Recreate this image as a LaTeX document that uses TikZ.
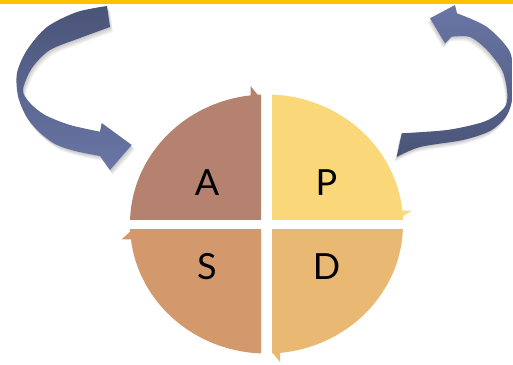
\documentclass[tikz,border=0pt]{standalone}
\usepackage{fontspec}
\setmainfont{Lato}
\begin{document}
\begin{tikzpicture}[x=1pt,y=-1pt,
  letter/.style={anchor=base,inner sep=0pt,font=\fontsize{36}{36}\selectfont,text=black},
  arrshadow/.style={fill=black,opacity=0.045}]
\definecolor{colA}{HTML}{B58270}
\definecolor{colP}{HTML}{FAD778}
\definecolor{colS}{HTML}{D3986C}
\definecolor{colD}{HTML}{E9B973}
\definecolor{bar}{HTML}{FFC000}
\definecolor{darkblue}{HTML}{4A5478}
\definecolor{lightblue}{HTML}{6A76A6}
\useasboundingbox (0,0) rectangle (513,364);
\fill[white] (0,0) rectangle (513,364);
\fill[bar] (0,0) rectangle (513,4);
% quadrants
\begin{scope}
\clip (100,60) rectangle (261,219);
\fill[colA] (266.5,224) ellipse [x radius=136.5pt, y radius=129.5pt];
\fill[colA] (250.5,86) -- (262,100) -- (250.5,114) -- cycle;
\end{scope}
\begin{scope}
\clip (272,60) rectangle (430,219);
\fill[colP] (266.5,224) ellipse [x radius=136.5pt, y radius=129.5pt];
\fill[colP] (411.7,210.7) -- (397,219.5) -- (385,210.7) -- cycle;
\end{scope}
\begin{scope}
\clip (272,229) rectangle (430,370);
\fill[colD] (266.5,224) ellipse [x radius=136.5pt, y radius=129.5pt];
\fill[colD] (280,362) -- (272,352) -- (280,340) -- cycle;
\end{scope}
\begin{scope}
\clip (100,229) rectangle (261,370);
\fill[colS] (266.5,224) ellipse [x radius=136.5pt, y radius=129.5pt];
\fill[colS] (121.7,239.3) -- (133,229) -- (144,239.3) -- cycle;
\end{scope}
\node[letter] (A) at (207,195) {A};
\node[letter] (P) at (326.5,195) {P};
\node[letter] (S) at (207,279) {S};
\node[letter] (D) at (326.5,279) {D};
% left curved arrow
\def\leftarrowpath{plot[smooth] coordinates {(107,6) (77,12) (47,27) (27,50) (17,73) (18,96) (26,116) (38,131) (55,144) (75,151) (100,156)}
 -- (110,170) -- (131.7,145) -- (101.7,123) -- (100,131.7)
 -- plot[smooth] coordinates {(100,131.7) (70,125) (45,115) (30,103) (23,90) (32,68) (50,50) (80,38) (110,27)} -- cycle}
\foreach \d in {1,2,3,4,5}{\fill[arrshadow,shift={(0.6*\d,\d)}] \leftarrowpath;}
\shade[top color=darkblue,bottom color=lightblue] \leftarrowpath;
% right curved arrow
\def\rightarrowpath{plot[smooth] coordinates {(396.7,157) (420,147) (463,140) (490,131) (505,118) (511.5,103) (512.5,80) (510,52) (487,27) (457,13.3)}
 -- (455,5) -- (430,18.3) -- (445,43.3) -- (451.7,36.7)
 -- plot[smooth] coordinates {(451.7,36.7) (470,37) (487,50) (502,70) (507,90) (506,105) (495,116) (480,123) (447,130) (401.7,133.3)} -- cycle}
\foreach \d in {1,2,3,4,5}{\fill[arrshadow,shift={(-0.4*\d,\d)}] \rightarrowpath;}
\shade[top color=lightblue,bottom color=darkblue] \rightarrowpath;
\end{tikzpicture}
\end{document}
